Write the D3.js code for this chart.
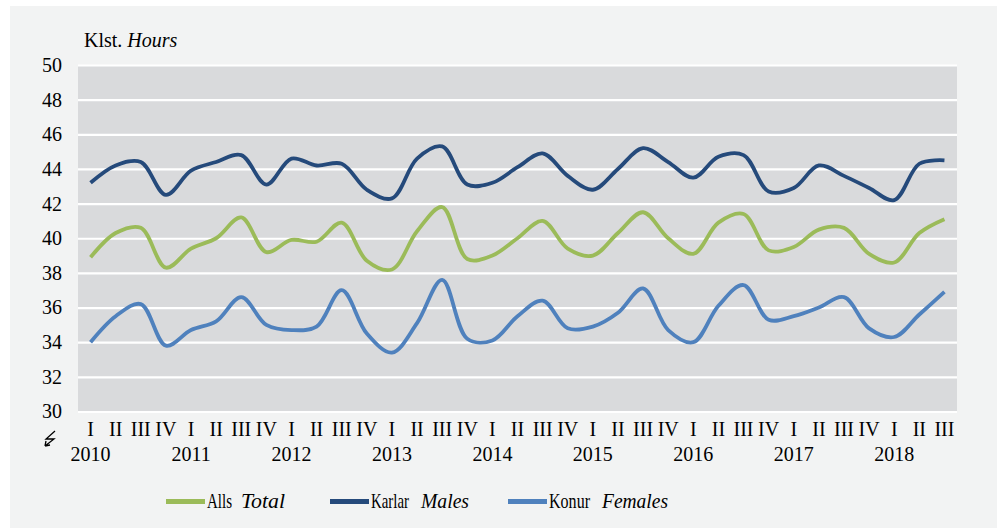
<!DOCTYPE html>
<html>
<head>
<meta charset="utf-8">
<script src="https://cdn.jsdelivr.net/npm/d3@7"></script>
<style>
  body { margin: 0; background: #ffffff; }
  svg text { font-family: "Liberation Serif", "Times New Roman", serif; fill: #000; }
</style>
</head>
<body>
<div id="vis-container"></div>
<script>
// chart data
const years = ['2010','2011','2012','2013','2014','2015','2016','2017','2018'];
const quarterNames = ['I','II','III','IV'];
const yTicks = [30,32,34,36,38,40,42,44,46,48,50];

// 2010 Q1 ... 2018 Q3
const total = [38.9,40.3,40.6,38.3, 39.4,40.0,41.2,39.2, 39.9,39.8,40.9,38.7,
               38.2,40.4,41.8,38.8, 39.0,40.0,41.0,39.4, 39.0,40.3,41.5,40.0,
               39.1,40.9,41.4,39.3, 39.5,40.5,40.6,39.1, 38.6,40.3,41.1];
const males = [43.2,44.2,44.4,42.5, 43.9,44.4,44.8,43.1, 44.6,44.2,44.3,42.8,
               42.3,44.6,45.3,43.1, 43.2,44.1,44.9,43.6, 42.8,44.0,45.2,44.4,
               43.5,44.7,44.8,42.7, 42.9,44.2,43.6,42.9, 42.2,44.3,44.5];
const females = [34.0,35.5,36.2,33.8, 34.7,35.2,36.6,35.0, 34.7,34.9,37.0,34.5,
                 33.4,35.1,37.6,34.2, 34.1,35.5,36.4,34.8, 34.9,35.7,37.1,34.7,
                 34.0,36.1,37.3,35.3, 35.5,36.0,36.6,34.8, 34.3,35.6,36.9];

const series = [
  {name: 'Alls', en: 'Total', values: total, color: '#9bbb59'},
  {name: 'Karlar', en: 'Males', values: males, color: '#254a7b'},
  {name: 'Konur', en: 'Females', values: females, color: '#4f81bd'}
];

// quarter categories
const categories = years.flatMap(y => quarterNames.map(q => ({year: y, q: q}))).slice(0, total.length);

const W = 997, H = 528;
const plot = {left: 78, right: 957, top: 65, bottom: 411.5};

const svg = d3.select("#vis-container")
  .append("svg")
    .attr("width", W)
    .attr("height", H);

// panel background
svg.append("rect")
  .attr("x", 10).attr("y", 6)
  .attr("width", W - 10).attr("height", H - 6)
  .attr("fill", "#f2f3f3");

svg.append("rect")
  .attr("x", plot.left).attr("y", plot.top)
  .attr("width", plot.right - plot.left).attr("height", plot.bottom - plot.top)
  .attr("fill", "#d9dadc");

const x = d3.scaleBand()
  .domain(d3.range(categories.length))
  .range([plot.left, plot.right]);

const y = d3.scaleLinear()
  .domain([30, 50])
  .range([plot.bottom, plot.top]);

// Y axis with white gridlines
const yAxis = svg.append("g")
  .attr("transform", `translate(${plot.left}, 0)`)
  .call(d3.axisLeft(y).tickValues(yTicks).tickSize(-(plot.right - plot.left)).tickPadding(16));
yAxis.select(".domain").remove();
yAxis.selectAll(".tick line").attr("stroke", "#ffffff").attr("stroke-width", 2.2);
yAxis.selectAll(".tick text").attr("font-size", 20);

// quarter labels
const qAxis = svg.append("g")
  .attr("transform", `translate(0, ${plot.bottom})`)
  .call(d3.axisBottom(x).tickSize(0).tickPadding(10).tickFormat(i => categories[i].q));
qAxis.select(".domain").remove();
qAxis.selectAll(".tick text").attr("font-size", 20);

// year labels under Q1
const yrAxis = svg.append("g")
  .attr("transform", `translate(0, ${plot.bottom + 25})`)
  .call(d3.axisBottom(x).tickSize(0).tickPadding(10)
    .tickValues(d3.range(0, categories.length, 4))
    .tickFormat(i => categories[i].year));
yrAxis.select(".domain").remove();
yrAxis.selectAll(".tick text").attr("font-size", 20);

// axis break mark
svg.append("path")
  .attr("d", "M55,431 L46,439 L54,439 L45,446 M45,446 L46,441 M45,446 L50,445")
  .attr("fill", "none")
  .attr("stroke", "#000")
  .attr("stroke-width", 1.3);

// title
const title = svg.append("text")
  .attr("x", 84).attr("y", 47)
  .attr("font-size", 20);
title.append("tspan").text("Klst. ");
title.append("tspan").attr("font-style", "italic").text("Hours");

// lines
const line = d3.line()
  .x((d, i) => x(i) + x.bandwidth() / 2)
  .y(d => y(d))
  .curve(d3.curveCatmullRom.alpha(0.5));

svg.selectAll(".series")
  .data(series)
  .enter()
    .append("path")
    .attr("class", "series")
    .attr("d", d => line(d.values))
    .attr("fill", "none")
    .attr("stroke", d => d.color)
    .attr("stroke-width", 3.8);

// legend
const legendPos = [
  {sx: 166, tx: 207, ex: 241, w1: 25, w2: 44},
  {sx: 330, tx: 371, ex: 421, w1: 38, w2: 48},
  {sx: 508, tx: 549, ex: 602, w1: 41, w2: 66}
];

const legend = svg.selectAll(".legend")
  .data(series)
  .enter()
    .append("g")
    .attr("class", "legend");

legend.append("line")
  .attr("x1", (d, i) => legendPos[i].sx)
  .attr("x2", (d, i) => legendPos[i].sx + 39)
  .attr("y1", 501.5).attr("y2", 501.5)
  .attr("stroke", d => d.color)
  .attr("stroke-width", 5);

legend.append("text")
  .attr("x", (d, i) => legendPos[i].tx)
  .attr("y", 508)
  .attr("font-size", 21)
  .attr("textLength", (d, i) => legendPos[i].w1)
  .attr("lengthAdjust", "spacingAndGlyphs")
  .text(d => d.name);

legend.append("text")
  .attr("x", (d, i) => legendPos[i].ex)
  .attr("y", 508)
  .attr("font-size", 21)
  .attr("font-style", "italic")
  .attr("textLength", (d, i) => legendPos[i].w2)
  .attr("lengthAdjust", "spacingAndGlyphs")
  .text(d => d.en);
</script>
</body>
</html>
